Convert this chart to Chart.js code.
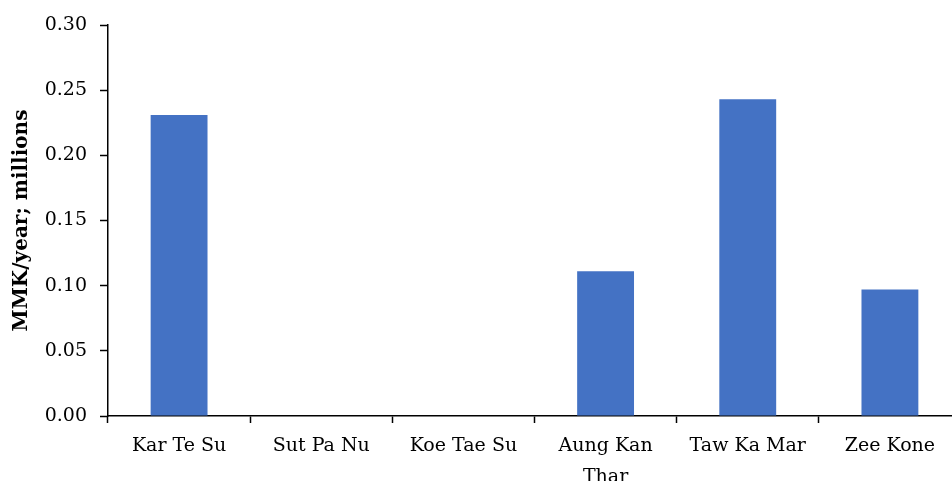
<!DOCTYPE html>
<html>
<head>
<meta charset="utf-8">
<script src="https://cdn.jsdelivr.net/npm/chart.js@4"></script>
<style>
  html, body { margin: 0; padding: 0; overflow: hidden; background: #fff; }
  canvas { display: block; }
</style>
</head>
<body>
<canvas id="c" width="975" height="481"></canvas>
<script>
// Villages along the x axis (multi-line labels as arrays)
const villages = ['Kar Te Su', 'Sut Pa Nu', 'Koe Tae Su', ['Aung Kan', 'Thar'], 'Taw Ka Mar', 'Zee Kone'];
// Annual income per village, MMK millions
const incomeMillions = [0.231, 0, 0, 0.111, 0.243, 0.097];
// Value axis range and step
const yMin = 0;
const yMax = 0.30;
const yStep = 0.05;

const serif = "'DejaVu Serif', 'Liberation Serif', serif";

new Chart(document.getElementById('c'), {
  type: 'bar',
  data: {
    labels: villages,
    datasets: [{
      data: incomeMillions,
      backgroundColor: '#4472C4',
      borderWidth: 0,
      categoryPercentage: 1,
      barPercentage: 0.4
    }]
  },
  options: {
    responsive: false,
    animation: false,
    layout: { padding: { top: 25, right: 14, left: 0, bottom: 0 } },
    plugins: { legend: { display: false }, tooltip: { enabled: false } },
    scales: {
      x: {
        offset: true,
        grid: {
          offset: true,
          drawOnChartArea: false,
          drawTicks: true,
          tickLength: 7,
          tickColor: '#000',
          tickWidth: 1.5
        },
        border: { color: '#000', width: 1.5 },
        ticks: {
          color: '#000',
          font: { family: serif, size: 19, lineHeight: 1.6 },
          padding: 8,
          maxRotation: 0,
          autoSkip: false
        },
        afterFit(scale) { scale.height = 65; }
      },
      y: {
        min: yMin,
        max: yMax,
        grid: {
          drawOnChartArea: false,
          drawTicks: true,
          tickLength: 8,
          tickColor: '#000',
          tickWidth: 1.5
        },
        border: { color: '#000', width: 1.5 },
        ticks: {
          stepSize: yStep,
          color: '#000',
          font: { family: serif, size: 19 },
          padding: 13,
          callback: v => Number(v).toFixed(2)
        },
        title: {
          display: true,
          text: 'MMK/year; millions',
          color: '#000',
          font: { family: serif, size: 20, weight: 'bold' },
          padding: { top: 10, bottom: 4 }
        },
        afterFit(scale) { scale.width = 108; }
      }
    }
  }
});
</script>
</body>
</html>
